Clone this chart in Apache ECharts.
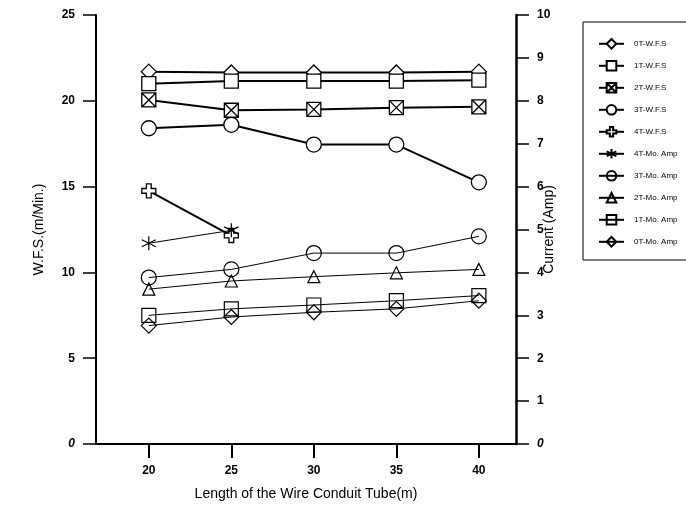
<!DOCTYPE html>
<html lang="en">
<head>
  <meta charset="UTF-8">
  <title>WFS and Current vs Conduit Length</title>
  <style>
      html, body { margin: 0; padding: 0; background: #fff; }
      #chart { width: 686px; height: 506px; }
  </style>
</head>
<body>
<div id="chart"></div>

<script src="https://cdn.jsdelivr.net/npm/echarts@6/dist/echarts.min.js"></script>
<script>

  // data
  const lengths = [20, 25, 30, 35, 40];
  const lengths4T = [20, 25];
  const xTicks = [20, 25, 30, 35, 40];

  // wire feed speed, m/min (left axis)
  const wfs0T = [21.7, 21.65, 21.65, 21.65, 21.7];
  const wfs1T = [21.0, 21.15, 21.15, 21.15, 21.2];
  const wfs2T = [20.05, 19.45, 19.5, 19.6, 19.65];
  const wfs3T = [18.4, 18.6, 17.45, 17.45, 15.25];
  const wfs4T = [14.75, 12.15];

  // current, amp (right axis)
  const amp4T = [4.68, 4.98];
  const amp3T = [3.88, 4.07, 4.45, 4.45, 4.84];
  const amp2T = [3.61, 3.8, 3.9, 3.99, 4.07];
  const amp1T = [3.0, 3.15, 3.24, 3.34, 3.46];
  const amp0T = [2.76, 2.96, 3.07, 3.15, 3.34];

  const FONT = '"Liberation Sans", Arial, sans-serif';

  const symXSquare = 'path://M0,0L10,0L10,10L0,10ZM0,0L10,10M10,0L0,10';
  const symPlus = 'path://M3.3,0L6.7,0L6.7,3.3L10,3.3L10,6.7L6.7,6.7L6.7,10L3.3,10L3.3,6.7L0,6.7L0,3.3L3.3,3.3Z';
  const symStar = 'path://M5,0L5,10M0,2.5L10,7.5M0,7.5L10,2.5';

  function pairs(xs, ys) {
    return ys.map(function (y, i) { return [xs[i], y]; });
  }

  function wfsSeries(name, xs, ys, symbol, size) {
    return {
      name: name,
      type: 'line',
      yAxisIndex: 0,
      data: pairs(xs, ys),
      symbol: symbol,
      symbolSize: size,
      lineStyle: { color: '#000', width: 2 },
      itemStyle: { color: '#fff', borderColor: '#000', borderWidth: 1.3 },
      emphasis: { disabled: true },
      animation: false
    };
  }

  function ampSeries(name, xs, ys, symbol, size) {
    return {
      name: name,
      type: 'line',
      yAxisIndex: 1,
      data: pairs(xs, ys),
      symbol: symbol,
      symbolSize: size,
      lineStyle: { color: '#000', width: 1 },
      itemStyle: { color: 'rgba(0,0,0,0)', borderColor: '#000', borderWidth: 1.2 },
      emphasis: { disabled: true },
      animation: false
    };
  }

  function tickLabel(v) {
    return v === 0 ? '{i|0}' : '{b|' + v + '}';
  }

  const labelRich = {
    b: { fontFamily: FONT, fontSize: 12, fontWeight: 'bold', color: '#000' },
    i: { fontFamily: FONT, fontSize: 12, fontWeight: 'bold', fontStyle: 'italic', color: '#000' }
  };

  const option = {
    animation: false,
    grid: { left: 96, right: 170, top: 15, bottom: 56 },
    legend: {
      orient: 'vertical',
      left: 598,
      top: 38,
      padding: 0,
      itemWidth: 25,
      itemHeight: 12,
      itemGap: 10.4,
      selectedMode: false,
      textStyle: { fontFamily: FONT, fontSize: 8, color: '#000', padding: [0, 0, 0, 5] },
      data: ['0T-W.F.S', '1T-W.F.S', '2T-W.F.S', '3T-W.F.S', '4T-W.F.S',
        '4T-Mo. Amp', '3T-Mo. Amp', '2T-Mo. Amp', '1T-Mo. Amp', '0T-Mo. Amp']
    },
    graphic: [
      {
        type: 'rect',
        shape: { x: 583, y: 22, width: 120, height: 238 },
        style: { fill: 'none', stroke: '#000', lineWidth: 1 },
        silent: true
      }
    ],
    xAxis: [
      {
        type: 'value',
        min: 16.8,
        max: 42.25,
        name: 'Length of the Wire Conduit Tube(m)',
        nameLocation: 'middle',
        nameGap: 43,
        nameMoveOverlap: false,
        nameTextStyle: { fontFamily: FONT, fontSize: 14, color: '#000' },
        axisLine: { lineStyle: { color: '#000', width: 2 } },
        axisTick: { inside: false, length: 14, customValues: xTicks, lineStyle: { color: '#000', width: 2 } },
        axisLabel: { customValues: xTicks, margin: 21, formatter: tickLabel, rich: labelRich },
        splitLine: { show: false }
      },
      {
        type: 'value',
        position: 'top',
        min: 16.8,
        max: 42.25,
        axisLine: { show: true, lineStyle: { color: '#000', width: 1.2 } },
        axisTick: { show: false },
        axisLabel: { show: false },
        splitLine: { show: false }
      }
    ],
    yAxis: [
      {
        type: 'value',
        position: 'left',
        min: 0,
        max: 25,
        interval: 5,
        name: 'W.F.S.(m/Min.)',
        nameLocation: 'middle',
        nameRotate: 90,
        nameGap: 50,
        nameMoveOverlap: false,
        nameTextStyle: { fontFamily: FONT, fontSize: 14, color: '#000' },
        axisLine: { show: true, lineStyle: { color: '#000', width: 2 } },
        axisTick: { show: true, length: 13, lineStyle: { color: '#000', width: 1.5 } },
        axisLabel: { margin: 21, formatter: tickLabel, rich: labelRich },
        splitLine: { show: false }
      },
      {
        type: 'value',
        position: 'right',
        min: 0,
        max: 10,
        interval: 1,
        name: 'Current (Amp)',
        nameLocation: 'middle',
        nameRotate: 90,
        nameGap: 26,
        nameMoveOverlap: false,
        nameTextStyle: { fontFamily: FONT, fontSize: 14, color: '#000' },
        axisLine: { show: true, lineStyle: { color: '#000', width: 2.5 } },
        axisTick: { show: true, length: 13, lineStyle: { color: '#000', width: 1.5 } },
        axisLabel: { margin: 21, formatter: tickLabel, rich: labelRich },
        splitLine: { show: false }
      }
    ],
    series: [
      wfsSeries('0T-W.F.S', lengths, wfs0T, 'diamond', 15),
      wfsSeries('1T-W.F.S', lengths, wfs1T, 'rect', 14),
      wfsSeries('2T-W.F.S', lengths, wfs2T, symXSquare, 14),
      wfsSeries('3T-W.F.S', lengths, wfs3T, 'circle', 15),
      wfsSeries('4T-W.F.S', lengths4T, wfs4T, symPlus, 14),
      ampSeries('4T-Mo. Amp', lengths4T, amp4T, symStar, 14),
      ampSeries('3T-Mo. Amp', lengths, amp3T, 'circle', 15),
      ampSeries('2T-Mo. Amp', lengths, amp2T, 'triangle', 12),
      ampSeries('1T-Mo. Amp', lengths, amp1T, 'rect', 14),
      ampSeries('0T-Mo. Amp', lengths, amp0T, 'diamond', 15)
    ]
  };

  const chart = echarts.init(document.getElementById('chart'));
  chart.setOption(option);

</script>
</body>
</html>
